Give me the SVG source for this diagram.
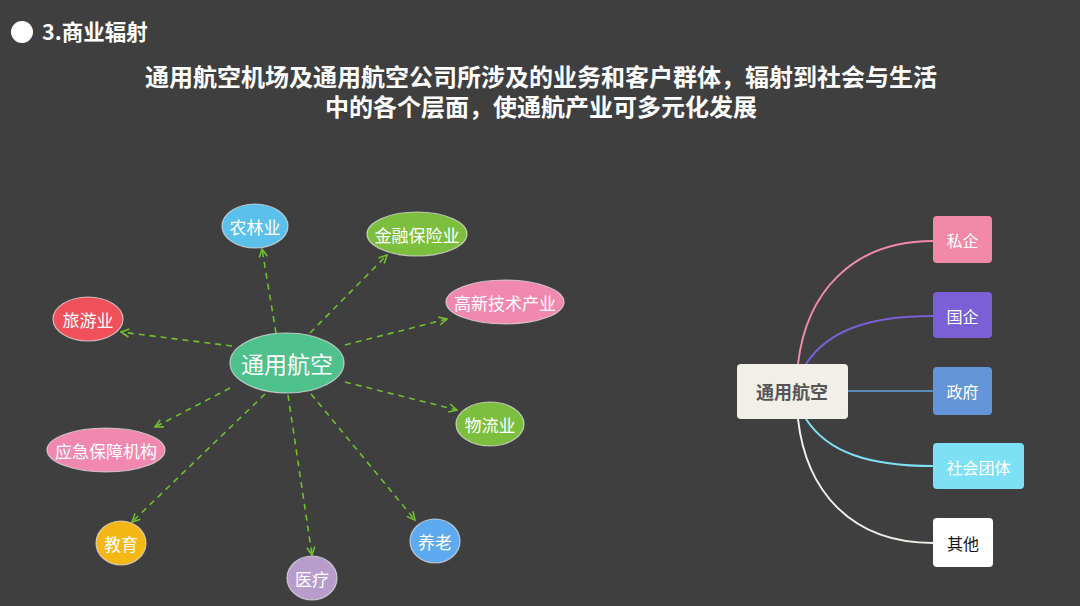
<svg xmlns="http://www.w3.org/2000/svg" width="1080" height="606" viewBox="0 0 1080 606">
<defs>
<style>
text{font-family:"Noto Sans CJK SC","Liberation Sans",sans-serif;}
.hd{fill:#fff;font-weight:bold;}
.ml{font-size:17px;fill:#fff;text-anchor:middle;dominant-baseline:central;}
.big{font-size:23px;}
.el{stroke:#e8e8e8;stroke-width:1.2;stroke-opacity:0.7;}
.arr{fill:none;stroke:#6fbf2e;stroke-width:1.6;stroke-dasharray:6 5;marker-end:url(#ah);}
.bx{font-size:16px;fill:#fff;text-anchor:middle;dominant-baseline:central;}
.dk{fill:#111;}
.cn{fill:none;stroke-width:2;}
</style>
<marker id="ah" viewBox="0 0 10 10" refX="9" refY="5" markerWidth="10" markerHeight="10" orient="auto" markerUnits="userSpaceOnUse">
<path d="M1,1 L9,5 L1,9" fill="none" stroke="#6fbf2e" stroke-width="1.6"/>
</marker>
</defs>
<rect width="1080" height="606" fill="#3f3f3f"/>
<g id="header">
<circle cx="22" cy="32" r="11" fill="#fff"/>
<text class="hd" x="42" y="40" font-size="21.5">3.商业辐射</text>
</g>
<g id="title">
<text class="hd" x="541" y="86" font-size="24" text-anchor="middle">通用航空机场及通用航空公司所涉及的业务和客户群体，辐射到社会与生活</text>
<text class="hd" x="541" y="116" font-size="24" text-anchor="middle">中的各个层面，使通航产业可多元化发展</text>
</g>
<g id="connectors">
<path class="arr" d="M276,333 L262,249"/>
<path class="arr" d="M310,333 L387,255"/>
<path class="arr" d="M345,345 L447,319"/>
<path class="arr" d="M232,346 L121,332"/>
<path class="arr" d="M230,388 L155,427"/>
<path class="arr" d="M345,382 L457,410"/>
<path class="arr" d="M265,394 L132,522"/>
<path class="arr" d="M288,395 L312,555"/>
<path class="arr" d="M311,394 L415,520"/>
<path class="cn" stroke="#f08aa8" d="M798,364 C806,295 850,241 933,241"/>
<path class="cn" stroke="#7a5fd6" d="M806,364 C828,330 870,316 933,316"/>
<path class="cn" stroke="#5a8ab8" d="M848,391 L933,391"/>
<path class="cn" stroke="#7ee0f5" d="M806,419 C828,453 870,466 933,466"/>
<path class="cn" stroke="#f2efe8" d="M798,419 C806,490 850,543 933,543"/>
</g>
<g id="n-center"><ellipse class="el" cx="287" cy="363" rx="57" ry="30" fill="#4fc18c"/><text class="ml big" x="287" y="363">通用航空</text></g>
<g id="n-nonglin"><ellipse class="el" cx="255" cy="226" rx="33" ry="22" fill="#5bc0eb"/><text class="ml" x="255" y="226">农林业</text></g>
<g id="n-jinrong"><ellipse class="el" cx="417" cy="234" rx="50" ry="22" fill="#7cbf3f"/><text class="ml" x="417" y="234">金融保险业</text></g>
<g id="n-gaoxin"><ellipse class="el" cx="505" cy="302" rx="59" ry="22" fill="#f088b0"/><text class="ml" x="505" y="302">高新技术产业</text></g>
<g id="n-lvyou"><ellipse class="el" cx="88" cy="319" rx="35" ry="22" fill="#f0505a"/><text class="ml" x="88" y="319">旅游业</text></g>
<g id="n-yingji"><ellipse class="el" cx="106" cy="450" rx="59" ry="22" fill="#f088b0"/><text class="ml" x="106" y="450">应急保障机构</text></g>
<g id="n-wuliu"><ellipse class="el" cx="490" cy="424" rx="34" ry="22" fill="#7cbf3f"/><text class="ml" x="490" y="424">物流业</text></g>
<g id="n-jiaoyu"><ellipse class="el" cx="121" cy="543" rx="25" ry="22" fill="#f5b716"/><text class="ml" x="121" y="543">教育</text></g>
<g id="n-yiliao"><ellipse class="el" cx="312" cy="578" rx="25" ry="22" fill="#b89ccc"/><text class="ml" x="312" y="578">医疗</text></g>
<g id="n-yanglao"><ellipse class="el" cx="435" cy="541" rx="25" ry="22" fill="#5eaaf0"/><text class="ml" x="435" y="541">养老</text></g>
<g id="r-center"><rect x="737" y="364" width="111" height="55" rx="4" fill="#f2efe8"/><text x="792" y="391" font-size="18" font-weight="bold" fill="#555" text-anchor="middle" dominant-baseline="central">通用航空</text></g>
<g id="r-siqi"><rect x="933" y="216" width="59" height="47" rx="4" fill="#f08aa8"/><text class="bx" x="962.5" y="240">私企</text></g>
<g id="r-guoqi"><rect x="933" y="292" width="59" height="46" rx="4" fill="#7a5fd6"/><text class="bx" x="962.5" y="316">国企</text></g>
<g id="r-zhengfu"><rect x="933" y="367" width="59" height="48" rx="4" fill="#6495d8"/><text class="bx" x="962.5" y="391">政府</text></g>
<g id="r-shehui"><rect x="933" y="443" width="91" height="46" rx="4" fill="#7ee0f5"/><text class="bx" x="978.5" y="467">社会团体</text></g>
<g id="r-qita"><rect x="933" y="518" width="60" height="49" rx="4" fill="#ffffff"/><text class="bx dk" x="963" y="543">其他</text></g>
</svg>
